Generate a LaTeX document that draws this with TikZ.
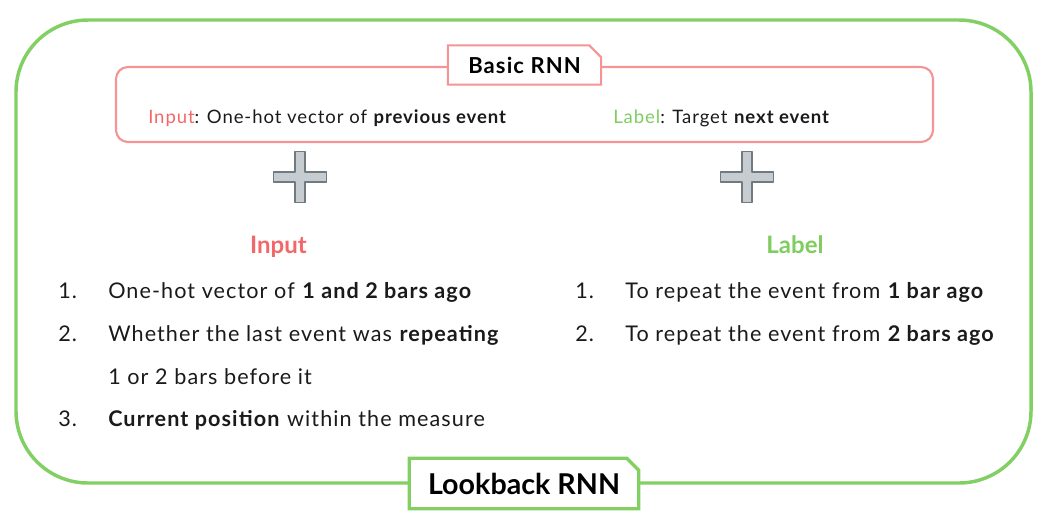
\documentclass[tikz,border=0pt]{standalone}
\usepackage{fontspec}
\setmainfont{Lato}
\newfontfamily\bodyfont[LetterSpace=5]{Lato}
\usetikzlibrary{shapes.misc}
\definecolor{gbord}{HTML}{82CF64}
\definecolor{pbord}{HTML}{F49494}
\definecolor{rtext}{HTML}{F26868}
\definecolor{gtext}{HTML}{7FCC60}
\definecolor{btext}{HTML}{1A1A1A}
\definecolor{plusfill}{HTML}{C6CCCF}
\definecolor{plusdraw}{HTML}{6F7B80}
\tikzset{
  outerbox/.style={draw=gbord, line width=2.6pt, rounded corners=54pt},
  innerbox/.style={draw=pbord, line width=1.6pt, rounded corners=9pt},
  titlebox/.style={chamfered rectangle, chamfered rectangle corners=north east,
     chamfered rectangle xsep=4.5pt, chamfered rectangle ysep=4.5pt,
     fill=white, inner sep=0pt, text=black, font=\bfseries},
  plusshape/.style={fill=plusfill, draw=plusdraw, line width=0.8pt, line join=round},
  listtxt/.style={anchor=base west, inner sep=0pt, text=btext, font=\bodyfont\fontsize{16.2}{18}\selectfont},
  smalltxt/.style={anchor=base west, inner sep=0pt, text=btext, font=\bodyfont\fontsize{13.9}{16}\selectfont},
  headtxt/.style={anchor=base, inner sep=0pt, font=\fontsize{18}{21}\selectfont\bfseries},
}
\begin{document}
\begin{tikzpicture}[x=0.75pt,y=-0.75pt]
\useasboundingbox (0,0) rectangle (1048,515);
% outer green box
\draw[outerbox] (16,20) rectangle (1031,483);
\node[titlebox, draw=gbord, line width=2.4pt, minimum width=172pt, minimum height=38pt,
      font=\fontsize{21.5}{24}\selectfont\bfseries] (lookback) at (524,483.5) {Lookback RNN};
% inner pink box
\draw[innerbox] (116,67) rectangle (933,142);
\node[titlebox, draw=pbord, line width=1.6pt, minimum width=115pt, minimum height=29.5pt,
      font=\bodyfont\fontsize{16.5}{19}\selectfont\bfseries] (basic) at (524.5,65) {Basic RNN};
\node[smalltxt] (binput) at (148,123) {\textcolor{rtext}{Input}: One-hot vector of \textbf{previous event}};
\node[smalltxt] (blabel) at (613,123) {\textcolor{gtext}{Label}: Target \textbf{next event}};
% plus signs
\foreach \cx/\nm in {300/plusA,747/plusB}{
  \coordinate (\nm) at (\cx,177);
  \draw[plusshape] ([shift={(-5,-25.5)}]\nm) -- ([shift={(5,-25.5)}]\nm) -- ([shift={(5,-5)}]\nm)
    -- ([shift={(26.5,-5)}]\nm) -- ([shift={(26.5,5)}]\nm) -- ([shift={(5,5)}]\nm)
    -- ([shift={(5,25.5)}]\nm) -- ([shift={(-5,25.5)}]\nm) -- ([shift={(-5,5)}]\nm)
    -- ([shift={(-26.5,5)}]\nm) -- ([shift={(-26.5,-5)}]\nm) -- ([shift={(-5,-5)}]\nm) -- cycle;
}
% headings
\node[headtxt, text=rtext] (hin) at (278.5,253) {Input};
\node[headtxt, text=gtext] (hlab) at (795,253) {Label};
% left list
\node[listtxt] (n1) at (58,298) {1.};
\node[listtxt] (l1) at (108,298) {One-hot vector of \textbf{1 and 2 bars ago}};
\node[listtxt] (n2) at (58,341) {2.};
\node[listtxt] (l2) at (108,341) {Whether the last event was \textbf{repeating}};
\node[listtxt] (l2b) at (108,384) {1 or 2 bars before it};
\node[listtxt] (n3) at (58,426) {3.};
\node[listtxt] (l3) at (108,426) {\textbf{Current position} within the measure};
% right list
\node[listtxt] (r1n) at (575,298) {1.};
\node[listtxt] (r1) at (625,298) {To repeat the event from \textbf{1 bar ago}};
\node[listtxt] (r2n) at (575,341) {2.};
\node[listtxt] (r2) at (625,341) {To repeat the event from \textbf{2 bars ago}};
\end{tikzpicture}
\end{document}
